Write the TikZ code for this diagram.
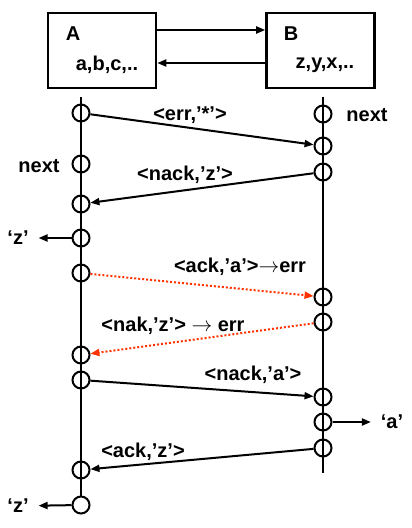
\documentclass[tikz,border=0pt]{standalone}
\usepackage{fontspec}
\setmainfont{Liberation Sans}
\usepackage{tikz}
\usetikzlibrary{arrows.meta}
\definecolor{errred}{HTML}{FF3300}

\begin{document}
\begin{tikzpicture}[x=1pt,y=-1pt,line width=2pt,font=\fontsize{20}{24}\selectfont\bfseries,
  box/.style={draw,line width=2.6pt,minimum width=108pt,minimum height=75pt,inner sep=0pt},
  ev/.style={draw,circle,minimum size=17pt,inner sep=0pt,line width=2pt},
  lab/.style={inner sep=0pt},
  outlab/.style={inner sep=0pt,outer xsep=10pt},
  msg/.style={-{Triangle[length=9pt,width=7pt]}},
  lost/.style={msg,errred,dotted}]
  \useasboundingbox (0,0) rectangle (412,528);
  \node[box] (boxA) at (102,50.5) {};
  \node[box] (boxB) at (320.5,50.5) {};
  \node[lab] (nameA) at (73,34) {A};
  \node[lab] (nameB) at (291,34) {B};
  \node[lab] (listA) at (107,65) {a,b,c,..};
  \node[lab] (listB) at (325,65) {z,y,x,..};
  \draw[msg] (boxA.east |- 0,30) -- (boxB.west |- 0,30);
  \draw[msg] (boxB.west |- 0,63) -- (boxA.east |- 0,63);
  \foreach \n/\y in {1/113,2/164,3/204,4/238,5/273,6/355,7/380,8/470,9/505}
    \node[ev] (a\n) at (81,\y) {};
  \foreach \n/\y in {1/114,2/146,3/172,4/297,5/322,6/397,7/422,8/448}
    \node[ev] (b\n) at (323,\y) {};
  \coordinate (topA) at (81,97);
  \coordinate (topB) at (323,97);
  \coordinate (endB) at (323,473);
  \draw (topA) -- (a9);
  \draw (topB) -- (endB);
  \node[lab] (nextB) at (367,115) {next};
  \node[lab] (nextA) at (39,166) {next};
  \draw[msg] (a1) -- (b2) ;
  \node[lab] (m1) at (190,115) {<err,’*’>};
  \draw[msg] (b3) -- (a3);
  \node[lab] (m2) at (185,175) {<nack,’z’>};
  \node[outlab] (outz1) at (18,238) {‘z’};
  \draw[msg] (a4) -- (outz1);
  \draw[lost] (a5) -- (b4);
  \node[lab] (m3) at (240,267) {<ack,’a’>$\rightarrow$err};
  \draw[lost] (b5) -- (a6);
  \node[lab] (m4) at (173,326) {<nak,’z’> $\rightarrow$ err};
  \draw[msg] (a7) -- (b6);
  \node[lab] (m5) at (253,375) {<nack,’a’>};
  \node[outlab] (outa) at (392,422) {‘a’};
  \draw[msg] (b7) -- (outa);
  \draw[msg] (b8) -- (a8);
  \node[lab] (m6) at (143,452) {<ack,’z’>};
  \node[outlab] (outz2) at (18,506) {‘z’};
  \draw[msg] (a9) -- (outz2);
\end{tikzpicture}
\end{document}
